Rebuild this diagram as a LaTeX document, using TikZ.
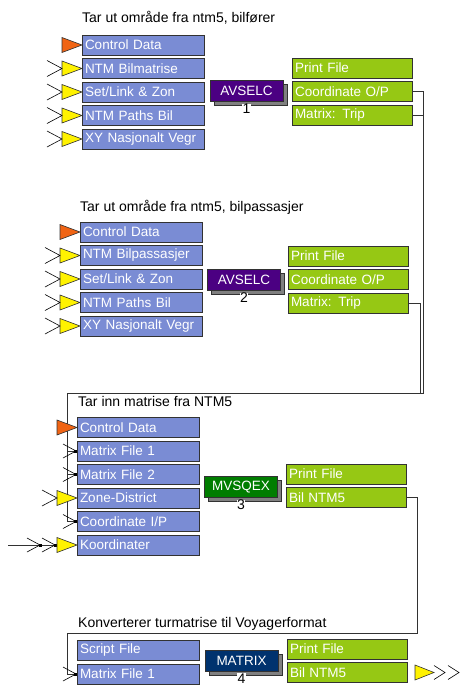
\documentclass[tikz,border=0pt]{standalone}
\usepackage{fontspec}
\setmainfont{Liberation Sans}
\usetikzlibrary{positioning,calc,shadows}

\definecolor{inblue}{RGB}{122,140,212}
\definecolor{outgreen}{RGB}{150,200,20}
\definecolor{avpurple}{RGB}{75,0,130}
\definecolor{mvgreen}{RGB}{0,125,0}
\definecolor{mxnavy}{RGB}{0,50,110}
\definecolor{ctlorange}{RGB}{240,100,20}
\definecolor{edge}{RGB}{50,50,50}

\tikzset{
  flow/.style={
    x=1pt, y=-1pt,
    node distance=2.5pt,
    font=\fontsize{13.5}{15}\selectfont,
    inbox/.style={
        draw=edge,
        line width=1pt,
        fill=inblue,
        text=white,
        text width=117pt,
        align=left,
        inner xsep=2.5pt,
        inner ysep=0pt,
        minimum height=20pt,
    },
    outbox/.style={inbox, fill=outgreen, text width=115pt},
    prog/.style={
        draw=edge,
        line width=1pt,
        text=white,
        minimum width=73pt,
        minimum height=21pt,
        inner sep=0pt,
        drop shadow={shadow xshift=4pt, shadow yshift=-4pt, fill=black!50, draw=edge, opacity=1},
    },
    step no/.style={fill=white, inner sep=0.5pt, text=black, font=\fontsize{14}{16}\selectfont},
    title/.style={anchor=west, inner sep=0pt, font=\fontsize{14}{16}\selectfont},
    wire/.style={draw=edge, line width=1pt},
    chev/.style={draw=black, line width=0.6pt},
    tri/.style={draw=edge, line width=0.6pt},
  }
}

% input markers
\newcommand{\yelin}[1]{
    \filldraw[tri, fill=yellow] ($(#1.west)+(-20,-7.5)$) -- (#1.west) -- ($(#1.west)+(-20,7.5)$) -- cycle;
    \draw[chev] ($(#1.west)+(-35,-8)$) -- ($(#1.west)+(-20,0)$) -- ($(#1.west)+(-35,8)$);
}
\newcommand{\ctlin}[1]{
    \filldraw[tri, fill=ctlorange] ($(#1.west)+(-20,-7.5)$) -- (#1.west) -- ($(#1.west)+(-20,7.5)$) -- cycle;
}
\newcommand{\feedin}[1]{
    \draw[chev] ($(#1.west)+(-14,-7)$) -- ($(#1.west)+(-1,0)$) -- ($(#1.west)+(-14,7)$);
    \fill[black] ($(#1.west)+(-3,-1.5)$) rectangle ++(3,3);
}

\begin{document}
\begin{tikzpicture}[flow]
    \useasboundingbox (0,0) rectangle (459,688);

    % 1: AVSELC, bilfører
    \node[title] (t1) at (82,18) {Tar ut område fra ntm5, bilfører};
    \node[inbox, anchor=west] (b1i1) at (82,45) {Control Data};
    \node[inbox, below=of b1i1] (b1i2) {NTM Bilmatrise};
    \node[inbox, below=of b1i2] (b1i3) {Set/Link \& Zon};
    \node[inbox, below=of b1i3] (b1i4) {NTM Paths Bil};
    \node[inbox, below=of b1i4] (b1i5) {XY Nasjonalt Vegr};
    \node[prog, fill=avpurple, label={[step no, label distance=1.5pt]below:1}] (b1p) at (246.5,91) {AVSELC};
    \node[outbox, anchor=west] (b1o1) at (292,68) {Print File};
    \node[outbox, below=of b1o1] (b1o2) {Coordinate O/P};
    \node[outbox, below=of b1o2] (b1o3) {Matrix: Trip};
    \ctlin{b1i1}
    \yelin{b1i2}
    \yelin{b1i3}
    \yelin{b1i4}
    \yelin{b1i5}

    % 2: AVSELC, bilpassasjer
    \node[title] (t2) at (80,207) {Tar ut område fra ntm5, bilpassasjer};
    \node[inbox, anchor=west] (b2i1) at (80,232) {Control Data};
    \node[inbox, below=of b2i1] (b2i2) {NTM~Bilpassasjer};
    \node[inbox, below=of b2i2] (b2i3) {Set/Link \& Zon};
    \node[inbox, below=of b2i3] (b2i4) {NTM Paths Bil};
    \node[inbox, below=of b2i4] (b2i5) {XY Nasjonalt Vegr};
    \node[prog, fill=avpurple, label={[step no, label distance=1.5pt]below:2}] (b2p) at (244,280) {AVSELC};
    \node[outbox, anchor=west] (b2o1) at (288,256) {Print File};
    \node[outbox, below=of b2o1] (b2o2) {Coordinate O/P};
    \node[outbox, below=of b2o2] (b2o3) {Matrix: Trip};
    \ctlin{b2i1}
    \yelin{b2i2}
    \yelin{b2i3}
    \yelin{b2i4}
    \yelin{b2i5}

    % 3: MVSQEX
    \node[title] (t3) at (78,401) {Tar inn matrise fra NTM5};
    \node[inbox, anchor=west] (b3i1) at (77,427.5) {Control Data};
    \node[inbox, below=of b3i1] (b3i2) {Matrix File 1};
    \node[inbox, below=of b3i2] (b3i3) {Matrix File 2};
    \node[inbox, below=of b3i3] (b3i4) {Zone-District};
    \node[inbox, below=of b3i4] (b3i5) {Coordinate I/P};
    \node[inbox, below=of b3i5] (b3i6) {Koordinater};
    \node[prog, fill=mvgreen, label={[step no, label distance=1.5pt]below:3}] (b3p) at (241,487) {MVSQEX};
    \node[outbox, anchor=west] (b3o1) at (286,474) {Print File};
    \node[outbox, below=of b3o1] (b3o2) {Bil NTM5};

    % 4: MATRIX
    \node[title] (t4) at (78,624) {Konverterer turmatrise til Voyagerformat};
    \node[inbox, anchor=west] (b4i1) at (77,650.5) {Script File};
    \node[inbox, below=of b4i1] (b4i2) {Matrix File 1};
    \node[prog, fill=mxnavy, label={[step no, label distance=1.5pt]below:4}] (b4p) at (241.5,660.5) {MATRIX};
    \node[outbox, anchor=west] (b4o1) at (287,649) {Print File};
    \node[outbox, below=of b4o1] (b4o2) {Bil NTM5};

    % connectors
    \coordinate (bus1) at (423,393);
    \coordinate (bus2) at (420,393);
    \coordinate (busL) at (67,393);
    \coordinate (bus3) at (417,633);
    \coordinate (busL4) at (67,633);
    \draw[wire] (b1o2.east) -| (bus1) -- (busL) |- (b3i5.west);
    \draw[wire] (b1o3.east) -| (bus1) -- (busL) |- (b3i2.west);
    \draw[wire] (b2o3.east) -| (bus2) -- (busL) |- (b3i3.west);
    \draw[wire] (b3o2.east) -| (bus3) -- (busL4) |- (b4i2.west);

    \ctlin{b3i1}
    \feedin{b3i2}
    \feedin{b3i3}
    \yelin{b3i4}
    \feedin{b3i5}
    \feedin{b4i2}

    % loose input on Koordinater
    \coordinate (kfree) at (8,545);
    \draw[wire, line width=0.8pt] (kfree) -- ($(b3i6.west)+(-20,0)$);
    \draw[chev] ($(b3i6.west)+(-50,-7)$) -- ($(b3i6.west)+(-37,0)$) -- ($(b3i6.west)+(-50,7)$);
    \draw[chev] ($(b3i6.west)+(-35,-7)$) -- ($(b3i6.west)+(-22,0)$) -- ($(b3i6.west)+(-35,7)$);
    \fill[black] ($(b3i6.west)+(-38.5,-1.5)$) rectangle ++(3,3);
    \fill[black] ($(b3i6.west)+(-23.5,-1.5)$) rectangle ++(3,3);
    \filldraw[tri, fill=yellow] ($(b3i6.west)+(-20,-7.5)$) -- (b3i6.west) -- ($(b3i6.west)+(-20,7.5)$) -- cycle;

    % loose output on Bil NTM5
    \filldraw[tri, fill=yellow] ($(b4o2.east)+(7,-7.5)$) -- ($(b4o2.east)+(26,0)$) -- ($(b4o2.east)+(7,7.5)$) -- cycle;
    \draw[chev] ($(b4o2.east)+(26,-7)$) -- ($(b4o2.east)+(37,0)$) -- ($(b4o2.east)+(26,7)$);
    \draw[chev] ($(b4o2.east)+(40,-7)$) -- ($(b4o2.east)+(51,0)$) -- ($(b4o2.east)+(40,7)$);
\end{tikzpicture}
\end{document}
